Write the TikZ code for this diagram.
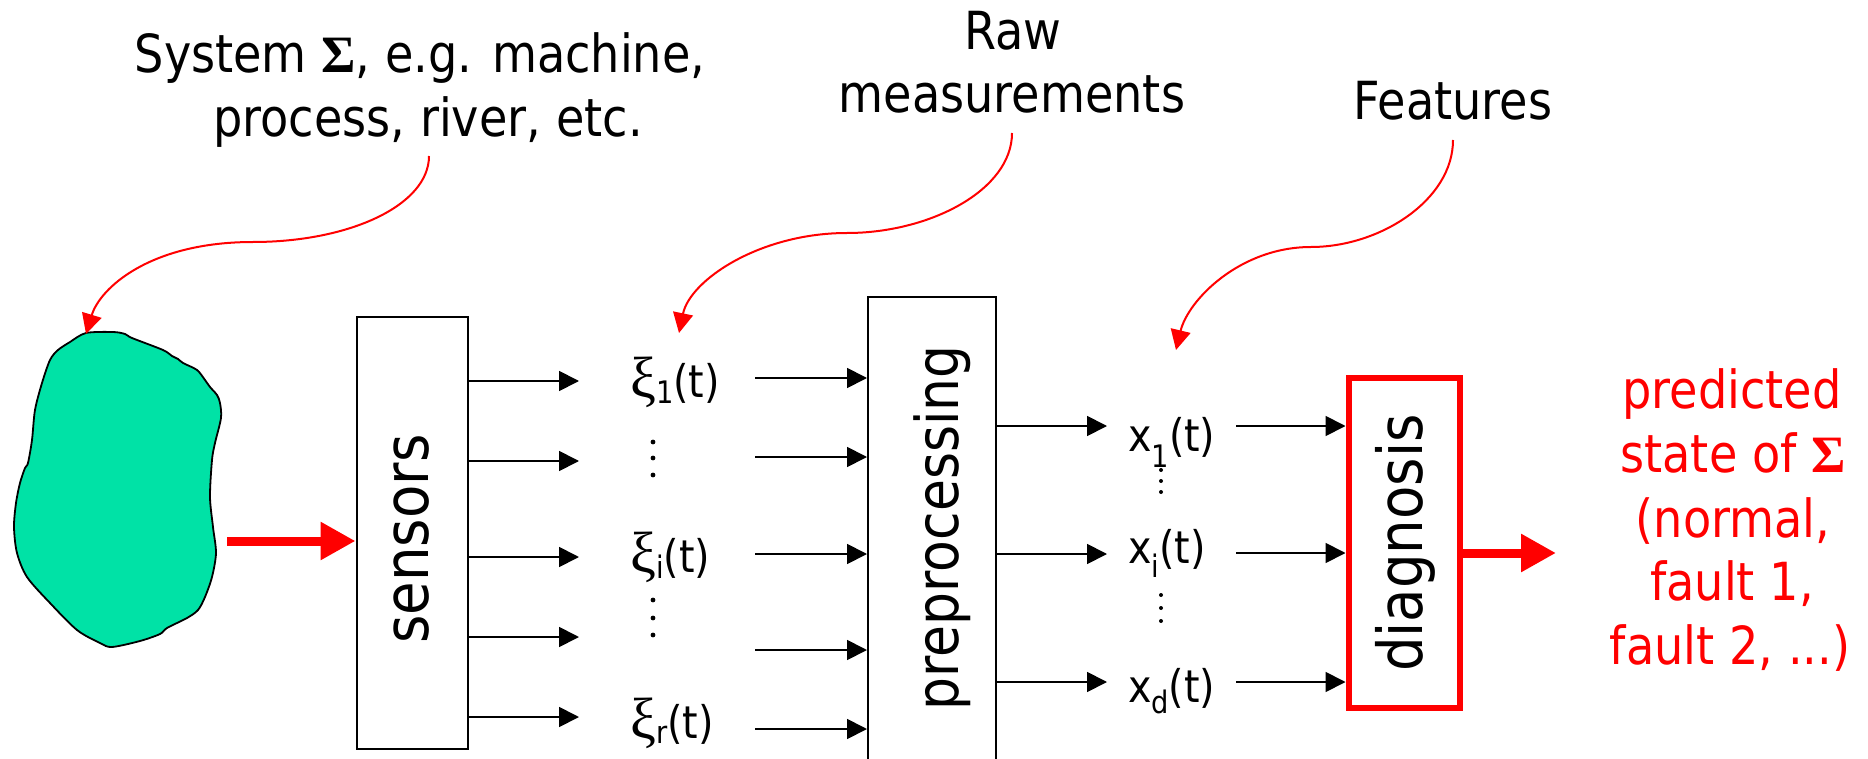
\documentclass[tikz,border=0pt]{standalone}
\usepackage{fontspec}
\setmainfont{DejaVu Sans}[FakeStretch=0.88]
\newfontfamily\grk{Liberation Serif}
\usetikzlibrary{arrows.meta}
\definecolor{blobgreen}{RGB}{0,226,166}
\newcommand\lowsub[2]{\raisebox{-#1}{\fontsize{31}{31}\selectfont #2}}
\newcommand\bigsig{{\grk\bfseries Σ}}
\newcommand\xiglyph{{\grk\fontsize{58}{58}\selectfont ξ}}
\begin{document}
\begin{tikzpicture}[x=1pt,y=-1pt,
  arr/.style={-{Triangle[length=20pt,width=20pt]}, line width=1.8pt},
  redcurve/.style={red, line width=2pt, -{Triangle[length=20pt,width=20pt]}},
  bigarr/.style={red, line width=9pt, -{Triangle[length=35pt,width=36pt]}},
  box/.style={draw, line width=2pt, inner sep=0pt},
  txt/.style={font=\fontsize{52.5}{64}\selectfont, inner sep=0pt, anchor=base},
  lab/.style={font=\fontsize{45}{50}\selectfont, inner sep=0pt, anchor=base west},
  vtxt/.style={rotate=90, anchor=base, inner sep=0pt},
  dotm/.style={fill=black},
]
\useasboundingbox (0,0) rectangle (1868,759);

% system blob
\draw[fill=blobgreen, line width=1.8pt] plot[smooth cycle, tension=0.5] coordinates {
 (86,333) (113,332) (125,334) (132,338) (163,350) (172,356) (178,359) (183,363)
 (197,370) (205,380) (210,387) (217,395) (220,403) (221,418) (215,443) (212,460)
 (210,497) (213,527) (216,553) (212,577) (205,597) (198,610) (187,618) (167,628)
 (160,634) (140,641) (112,647) (100,643) (77,630) (50,603) (27,577) (17,553)
 (14,527) (16,503) (20,483) (25,468) (28,463) (32,440) (35,410) (42,383)
 (50,360) (58,350) (70,342)};

% boxes
\node[box, minimum width=111pt, minimum height=432pt] (sens) at (412,533) {};
\node[box, minimum width=128pt, minimum height=520pt] (prep) at (932,557) {};
\node[draw=red, line width=6pt, inner sep=0pt, minimum width=111.5pt, minimum height=330pt] (diag) at (1404.25,543) {};

\node[vtxt, font=\fontsize{62}{62}\selectfont] (sensT) at (428,539) {sensors};
\node[vtxt, font=\fontsize{59}{59}\selectfont] (prepT) at (958,528) {preprocessing};
\node[vtxt, font=\fontsize{62}{62}\selectfont] (diagT) at (1422,543) {diagnosis};

% top labels
\node[txt] (sysA) at (420,73) {System \bigsig, e.g. machine,};
\node[txt] (sysB) at (428,137) {process, river, etc.};
\node[txt] (rawA) at (1013,50) {Raw};
\node[txt] (rawB) at (1012,113) {measurements};
\node[txt] (feat) at (1453,120) {Features};

% output text
\node[txt, red] (outA) at (1732,408) {predicted};
\node[txt, red] (outB) at (1733,472) {state of \bigsig};
\node[txt, red] (outC) at (1733,537) {(normal,};
\node[txt, red] (outD) at (1732,600) {fault 1,};
\node[txt, red] (outE) at (1730,664) {fault 2, ...)};

% signal labels
\node[lab] (xiA) at (630,397) {\xiglyph\lowsub{6pt}{1}(t)};
\node[lab] (xiB) at (630,572) {\xiglyph\lowsub{6pt}{i}(t)};
\node[lab] (xiC) at (630,738) {\xiglyph\lowsub{5pt}{r}(t)};
\node[lab] (xA) at (1128,451) {x\lowsub{16pt}{1}(t)};
\node[lab] (xB) at (1128,563) {x\lowsub{14pt}{i}(t)};
\node[lab] (xC) at (1128,702) {x\lowsub{11pt}{d}(t)};

% vertical dots
\foreach \y in {442,458,475,600,618,635} \fill[dotm] (653,\y) circle (2.4pt);
\foreach \y in {470,481,492,595,608,621} \fill[dotm] (1161,\y) circle (2pt);

% sensors -> xi
\foreach \n/\y in {1/381,2/461,3/557,4/637,5/717} {
  \coordinate (s\n) at (579,\y);
  \draw[arr] (sens.east |- s\n) -- (s\n);
}
% xi -> preprocessing
\foreach \n/\y in {1/378,2/457,3/554,4/650,5/729} {
  \coordinate (p\n) at (755,\y);
  \draw[arr] (p\n) -- (prep.west |- p\n);
}
% preprocessing -> x
\foreach \n/\y in {1/426,2/554,3/682} {
  \coordinate (q\n) at (1107,\y);
  \draw[arr] (prep.east |- q\n) -- (q\n);
}
% x -> diagnosis
\foreach \n/\y in {1/426,2/553,3/682} {
  \coordinate (d\n) at (1236,\y);
  \draw[arr] (d\n) -- (diag.west |- d\n);
}

% big red arrows
\coordinate (blobR) at (227,541);
\draw[bigarr] (blobR) -- (sens.west |- blobR);
\coordinate (outR) at (1556,553);
\draw[bigarr] (diag.east |- outR) -- (outR);

% red annotation curves
\coordinate (c1s) at (429,156);
\coordinate (c1m) at (253,242);
\coordinate (c1e) at (86,334);
\draw[redcurve] (c1s) .. controls (429,205) and (350,242) .. (c1m)
  .. controls (150,242) and (100,288) .. (c1e);
\coordinate (c2s) at (1012,133);
\coordinate (c2m) at (847,233);
\coordinate (c2e) at (679,333);
\draw[redcurve] (c2s) .. controls (1012,190) and (930,233) .. (c2m)
  .. controls (760,233) and (690,280) .. (c2e);
\coordinate (c3s) at (1453,140);
\coordinate (c3m) at (1311,247);
\coordinate (c3e) at (1176,350);
\draw[redcurve] (c3s) .. controls (1453,200) and (1380,247) .. (c3m)
  .. controls (1240,247) and (1188,300) .. (c3e);
\end{tikzpicture}
\end{document}
